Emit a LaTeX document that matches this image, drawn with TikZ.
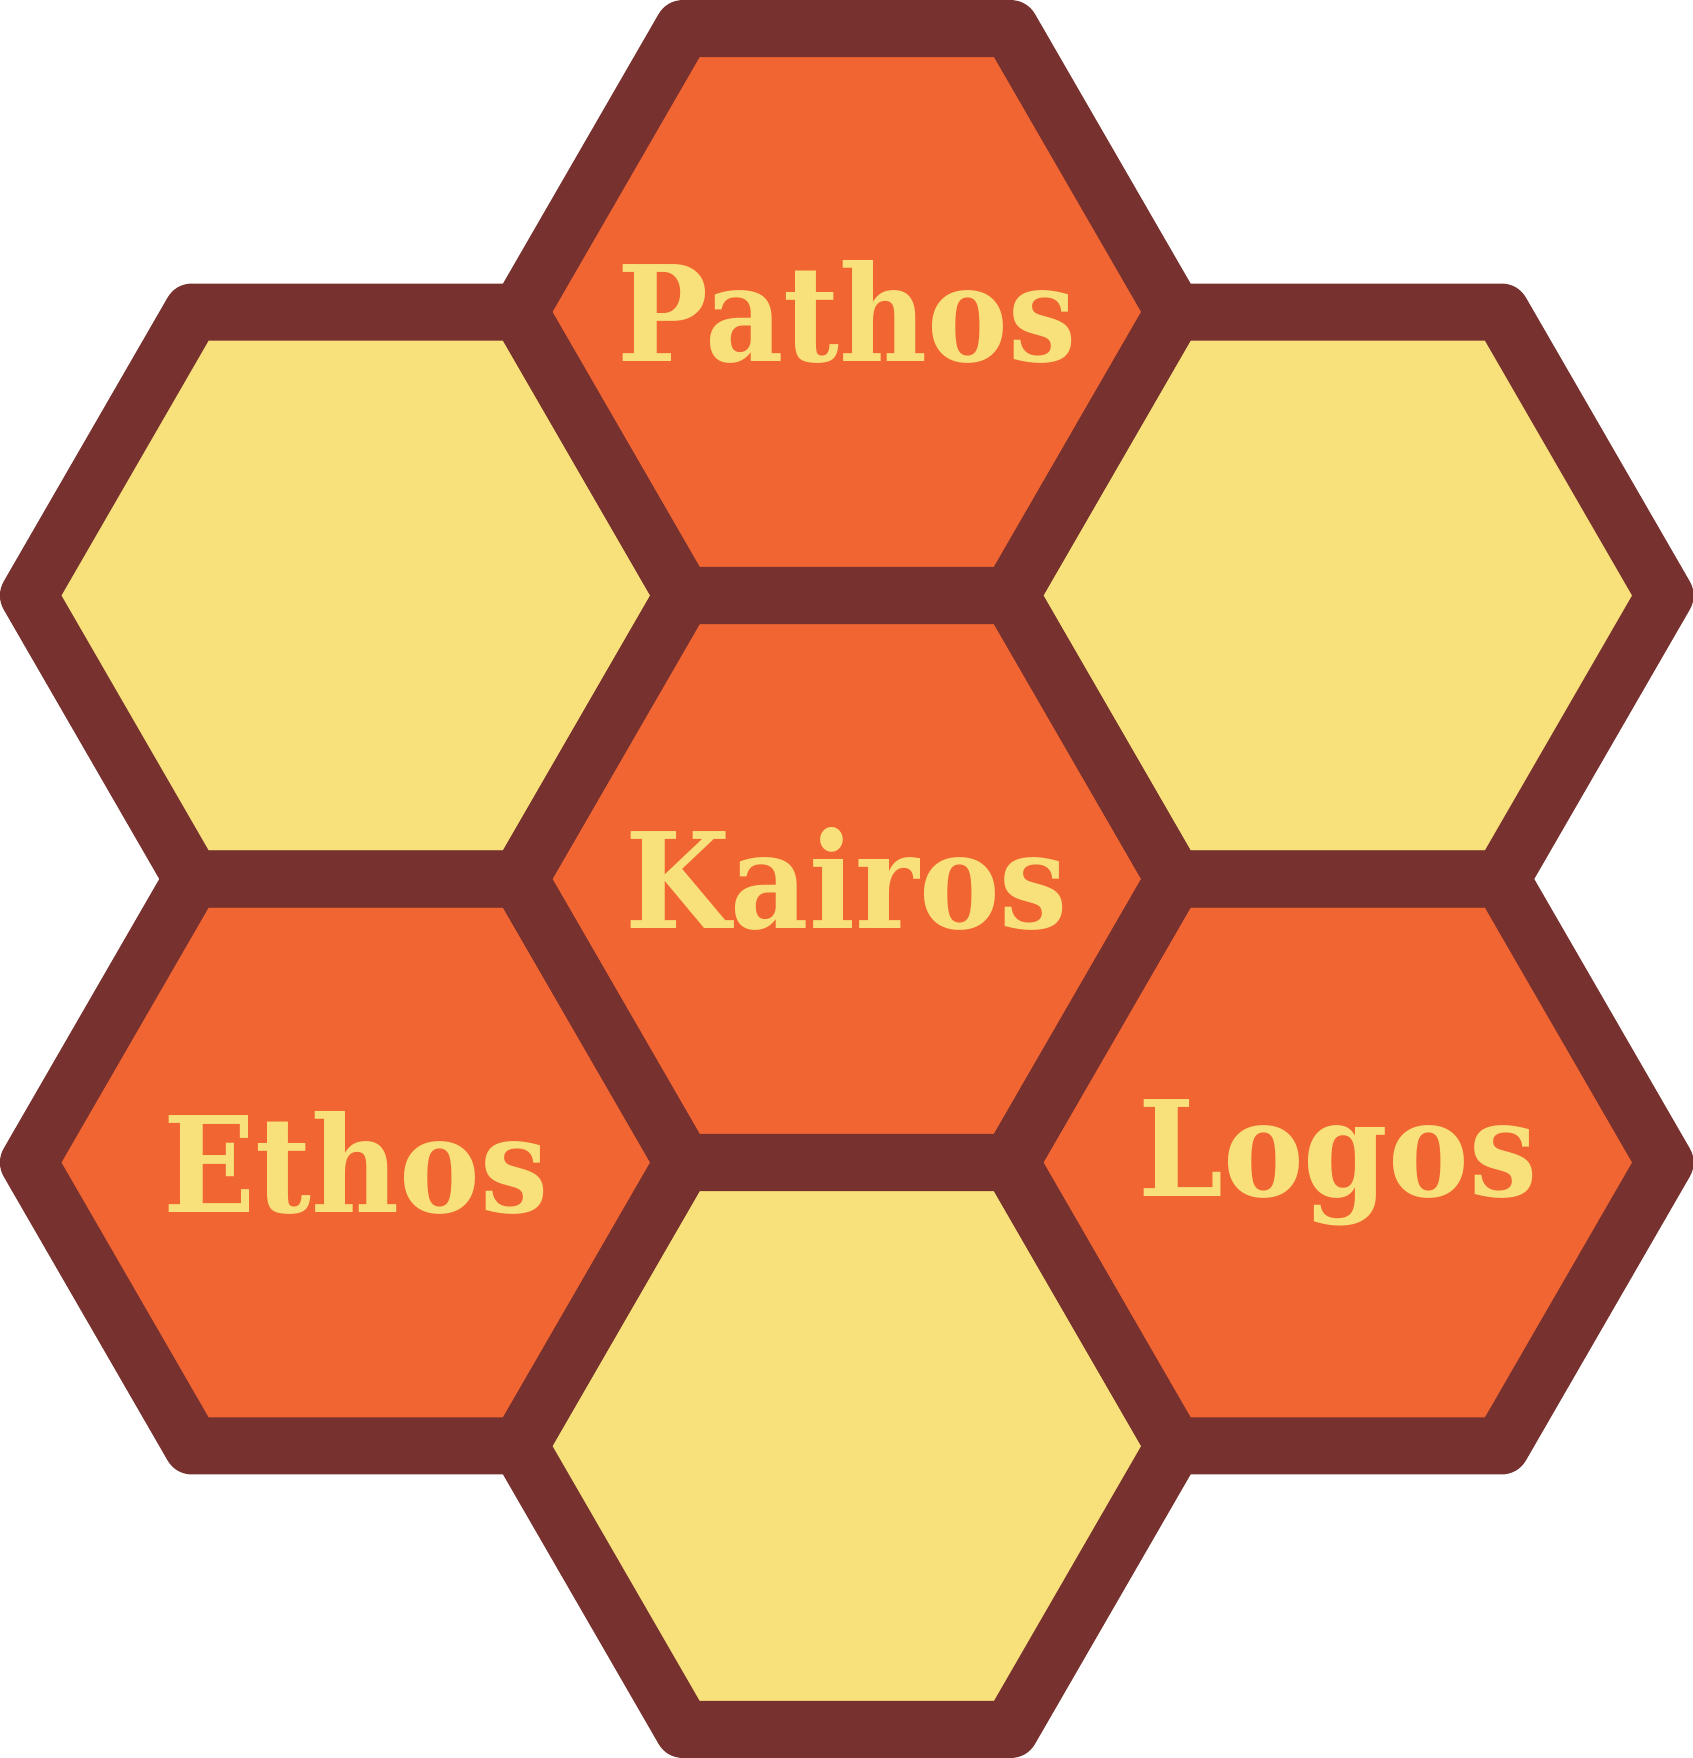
\documentclass[tikz,border=0pt]{standalone}
\usepackage{fontspec}
\newfontfamily\hexfont{DejaVu Serif}[BoldFont={DejaVu Serif Bold},BoldFeatures={FakeStretch=0.91}]
\definecolor{bordercol}{RGB}{119,49,46}
\definecolor{orangefill}{RGB}{241,101,50}
\definecolor{yellowfill}{RGB}{248,225,123}
\newcommand\hexat[1]{(#1) ++(0:\R) -- ++(120:\R) -- ++(180:\R) -- ++(240:\R) -- ++(300:\R) -- ++(0:\R) -- cycle}
\begin{document}
\begin{tikzpicture}[x=1pt,y=-1pt,
  hexborder/.style={draw=bordercol,line width=57pt,line join=round},
  hexlabel/.style={text=yellowfill,inner sep=0pt,font=\hexfont\bfseries\fontsize{133}{160}\selectfont}]
\useasboundingbox (0,0) rectangle (1693,1758);
\def\R{327.3}
\coordinate (ctop) at (846.8,312);
\coordinate (cmid) at (846.8,879);
\coordinate (cbot) at (846.8,1446);
\coordinate (clu) at (355.8,595.5);
\coordinate (cru) at (1337.7,595.5);
\coordinate (cll) at (355.8,1162.5);
\coordinate (crl) at (1337.7,1162.5);
\fill[orangefill] \hexat{ctop};
\fill[orangefill] \hexat{cmid};
\fill[orangefill] \hexat{cll};
\fill[orangefill] \hexat{crl};
\fill[yellowfill] \hexat{clu};
\fill[yellowfill] \hexat{cru};
\fill[yellowfill] \hexat{cbot};
\foreach \c in {ctop,cmid,cbot,clu,cru,cll,crl}{
  \draw[hexborder] \hexat{\c};
}
\node[hexlabel] (pathos) at (ctop) {Pathos};
\node[hexlabel] (kairos) at (cmid) {Kairos};
\node[hexlabel] (ethos) at (cll) {Ethos};
\node[hexlabel] (logos) at (crl) {Logos};
\end{tikzpicture}
\end{document}
